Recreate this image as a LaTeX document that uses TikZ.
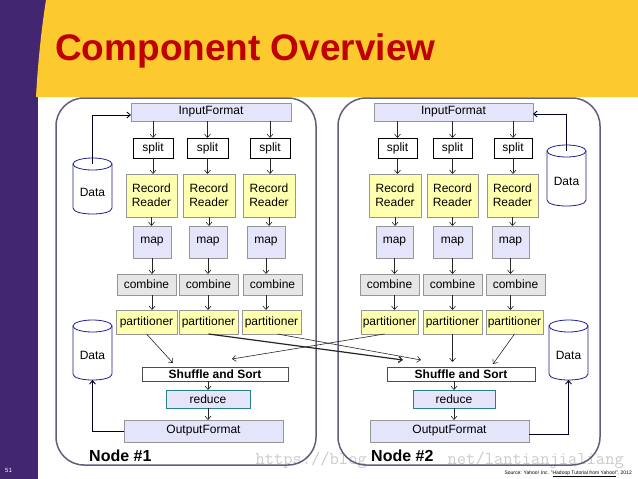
\documentclass[tikz,border=0pt]{standalone}
\usepackage{fontspec}
\setmainfont{Liberation Sans}
\usetikzlibrary{arrows.meta,calc}
\definecolor{purp}{RGB}{66,38,112}
\definecolor{hdr}{RGB}{252,202,46}
\definecolor{ttl}{RGB}{192,0,0}
\definecolor{lav}{RGB}{228,228,250}
\definecolor{ylw}{RGB}{255,255,176}
\definecolor{cmb}{RGB}{230,230,230}
\definecolor{bgray}{RGB}{150,150,150}
\definecolor{rdteal}{RGB}{40,130,130}
\definecolor{navy}{RGB}{30,30,140}
\definecolor{frm}{RGB}{95,95,125}
\newcommand\bx[7]{%
 \pgfmathsetmacro\bxw{#5-#3}\pgfmathsetmacro\bxh{#6-#4}%
 \pgfmathsetmacro\bxx{(#3+#5)/2}\pgfmathsetmacro\bxy{(#4+#6)/2}%
 \node[#1,minimum width=\bxw pt,minimum height=\bxh pt] (#2) at (\bxx,\bxy) {#7};}
\newcommand\cyl[6]{%
 \pgfmathsetmacro\cxc{(#2+#3)/2}\pgfmathsetmacro\crx{(#3-#2)/2}%
 \pgfmathsetmacro\cya{#4+6}\pgfmathsetmacro\cyb{#5-6}\pgfmathsetmacro\cyc{#5+2}%
 \filldraw[cylst] (#2,\cya) -- (#2,\cyb) .. controls (#2,\cyc) and (#3,\cyc) .. (#3,\cyb) -- (#3,\cya) -- cycle;
 \filldraw[cylst] (\cxc,\cya) ellipse [x radius=\crx, y radius=6];
 \node[txt] (#1) at (\cxc,#6) {Data};
 \coordinate (#1top) at (\cxc,\cya);
 \coordinate (#1bot) at (\cxc,#5);}
\begin{document}
\begin{tikzpicture}[x=1pt,y=-1pt,
 box/.style={draw=bgray, line width=0.6pt, inner sep=1pt, outer sep=0pt, font=\fontsize{12}{14}\selectfont, align=center},
 lavbox/.style={box, fill=lav},
 splitbox/.style={box, draw=black, fill=white},
 ybox/.style={box, fill=ylw},
 cbox/.style={box, fill=cmb},
 shbox/.style={box, draw=black!70, fill=white, font=\fontsize{12}{14}\selectfont\bfseries},
 rdbox/.style={box, draw=rdteal, line width=0.9pt, fill=lav},
 txt/.style={font=\fontsize{12}{14}\selectfont, inner sep=0pt},
 arr/.style={-{Straight Barb[length=3.5pt,width=6pt]}, line width=0.6pt, black!85},
 dline/.style={-{Straight Barb[length=3.5pt,width=6pt]}, line width=0.9pt, black!85!blue},
 cylst/.style={draw=navy, fill=white, line width=0.8pt},
 frame/.style={draw=frm, line width=1.5pt, rounded corners=28pt},
 wmark/.style={font=\ttfamily\fontsize{18}{20}\selectfont, text=black!20, inner sep=0pt},
 nodelab/.style={font=\fontsize{16}{18}\selectfont\bfseries, inner sep=0pt, anchor=base west}]
\useasboundingbox (0,0) rectangle (638,479);
\fill[white] (0,0) rectangle (638,479);
\fill[purp] (0,0) rectangle (38,479);
\fill[purp] (0,0) rectangle (46,97);
\fill[hdr] (46,0) -- (638,0) -- (638,97) -- (36,97) .. controls (38,60) and (42,25) .. (46,0) -- cycle;
\node[anchor=base west, text=ttl, font=\fontsize{37}{40}\selectfont\bfseries, inner sep=0pt] (title) at (55,60) {Component Overview};
\node[anchor=base west, text=white, font=\fontsize{6}{7}\selectfont, inner sep=0pt] (pg) at (5,472) {51};
\node[anchor=base east, font=\fontsize{5}{6}\selectfont, inner sep=0pt] (src) at (632,474) {Source: Yahoo! Inc. "\underline{Hadoop Tutorial from Yahoo!}", 2012};
% watermark (middle part hidden behind the node label in the reference)
\node[wmark, anchor=base east] (wm1) at (367,464) {https://blog};
\node[wmark, anchor=base east] (wm2) at (624,464) {net/lantianjialiang};
\node[nodelab] (lab1) at (89,461) {Node \#1};
\node[nodelab] (lab2) at (371,461) {Node \#2};
% frames
\draw[frame] (56,98) rectangle (316,465);
\draw[frame] (338,98) rectangle (600,465);
% Node 1
\bx{lavbox}{in1}{131}{103}{291}{121}{InputFormat}
\bx{splitbox}{s11}{133}{138}{173}{158}{split}
\bx{splitbox}{s12}{187}{138}{228}{158}{split}
\bx{splitbox}{s13}{250}{138}{290}{158}{split}
\bx{ybox}{r11}{126}{174}{177}{217}{Record\\Reader}
\bx{ybox}{r12}{183}{174}{235}{217}{Record\\Reader}
\bx{ybox}{r13}{243}{174}{295}{217}{Record\\Reader}
\bx{lavbox}{m11}{133}{226}{171}{258}{map}
\bx{lavbox}{m12}{189}{226}{227}{258}{map}
\bx{lavbox}{m13}{247}{226}{285}{258}{map}
\bx{cbox}{c11}{117}{274}{176}{295}{combine}
\bx{cbox}{c12}{179}{274}{238}{295}{combine}
\bx{cbox}{c13}{243}{274}{302}{295}{combine}
\bx{ybox}{p11}{116}{310}{177}{334}{partitioner}
\bx{ybox}{p12}{179}{310}{238}{334}{partitioner}
\bx{ybox}{p13}{242}{310}{301}{334}{partitioner}
\bx{shbox}{sh1}{142}{367}{288}{381}{Shuffle and Sort}
\bx{rdbox}{rd1}{166}{390}{250}{408}{reduce}
\bx{lavbox}{out1}{124}{420}{283}{442}{OutputFormat}
% Node 2
\bx{lavbox}{in2}{374}{103}{533}{121}{InputFormat}
\bx{splitbox}{s21}{378}{138}{417}{158}{split}
\bx{splitbox}{s22}{433}{138}{472}{158}{split}
\bx{splitbox}{s23}{494}{138}{532}{158}{split}
\bx{ybox}{r21}{369}{174}{421}{217}{Record\\Reader}
\bx{ybox}{r22}{427}{174}{478}{217}{Record\\Reader}
\bx{ybox}{r23}{487}{174}{538}{217}{Record\\Reader}
\bx{lavbox}{m21}{376}{226}{413}{258}{map}
\bx{lavbox}{m22}{433}{226}{472}{258}{map}
\bx{lavbox}{m23}{492}{226}{529}{258}{map}
\bx{cbox}{c21}{360}{274}{419}{295}{combine}
\bx{cbox}{c22}{423}{274}{482}{295}{combine}
\bx{cbox}{c23}{486}{274}{545}{295}{combine}
\bx{ybox}{p21}{361}{310}{418}{334}{partitioner}
\bx{ybox}{p22}{423}{310}{482}{334}{partitioner}
\bx{ybox}{p23}{486}{310}{543}{334}{partitioner}
\bx{shbox}{sh2}{387}{367}{535}{381}{Shuffle and Sort}
\bx{rdbox}{rd2}{413}{390}{495}{408}{reduce}
\bx{lavbox}{out2}{370}{420}{529}{442}{OutputFormat}
% cylinders
\cyl{d1}{73}{112}{158}{214}{192}
\cyl{d2}{73}{112}{320}{380}{355}
\cyl{d3}{547}{586}{145}{206}{181}
\cyl{d4}{549}{588}{320}{380}{355}
% vertical arrows
\foreach \n in {1,2}{
 \foreach \c in {1,2,3}{
  \draw[arr] (s\n\c.north |- in\n.south) -- (s\n\c.north);
  \draw[arr] (s\n\c.south) -- (s\n\c.south |- r\n\c.north);
  \draw[arr] (r\n\c.south) -- (r\n\c.south |- m\n\c.north);
  \draw[arr] (m\n\c.south) -- (m\n\c.south |- c\n\c.north);
  \draw[arr] (m\n\c.south |- c\n\c.south) -- (m\n\c.south |- p\n\c.north);
 }
 \draw[arr] (rd\n.north |- sh\n.south) -- (rd\n.north);
 \draw[arr] (rd\n.south) -- (rd\n.south |- out\n.north);
}
% partitioner to shuffle
\draw[arr] (p11.south) -- ([xshift=31pt,yshift=4pt]sh1.north west);
\draw[arr, line width=1.2pt] (p12.south) -- ([xshift=16pt,yshift=7pt]sh2.north west);
\draw[arr] ([xshift=6pt]p13.south) -- ([xshift=34pt,yshift=7pt]sh2.north west);
\draw[arr] ([xshift=-5pt]p21.south) -- ([xshift=90pt,yshift=8pt]sh1.north west);
\draw[arr] (p22.south) -- ([yshift=5pt]p22.south |- sh2.north);
\draw[arr] (p23.south) -- ([xshift=106pt,yshift=3pt]sh2.north west);
% data connectors
\draw[dline] (d1top) |- ([yshift=-3pt]in1.west);
\draw[dline] (out1.west) -| (d2bot);
\draw[dline] (d3top) |- ([yshift=-2pt]in2.east);
\draw[dline] ([yshift=-3pt]out2.east) -| (d4bot);
\end{tikzpicture}
\end{document}
